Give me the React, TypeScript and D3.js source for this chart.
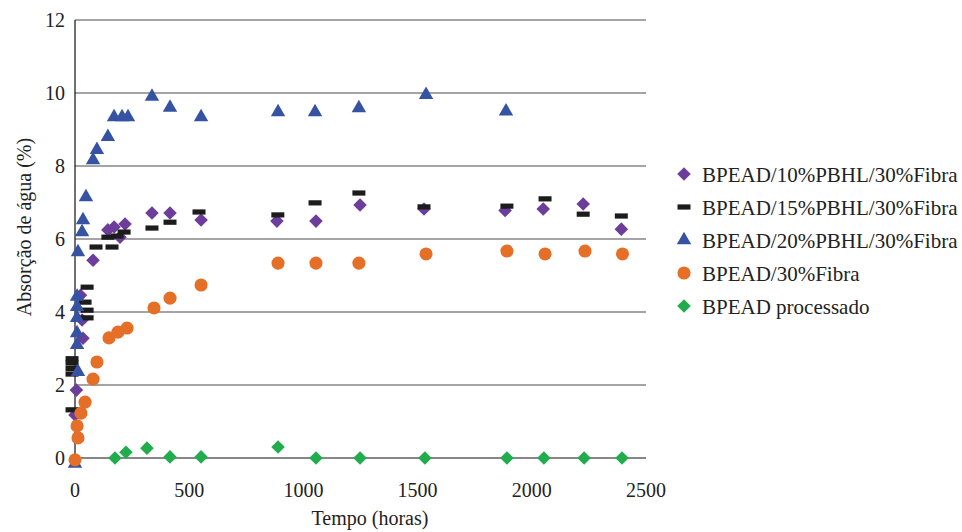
import * as d3 from 'd3';

// hours / absorption (%)
const s10Hours = [0, 6, 35, 31, 24, 79, 197, 144, 171, 219, 337, 416, 552, 884, 1055, 1248, 1528, 1883, 2050, 2225, 2392];
const s10Vals = [1.18, 1.86, 3.28, 3.78, 4.46, 5.42, 6.05, 6.25, 6.33, 6.41, 6.71, 6.71, 6.52, 6.49, 6.49, 6.93, 6.82, 6.78, 6.82, 6.96, 6.27];

const s15Hours = [-13, -13, -13, -13, -13, 53, 44, 53, 53, 92, 162, 144, 184, 215, 337, 416, 543, 888, 1051, 1243, 1528, 1891, 2058, 2225, 2392];
const s15Vals = [1.32, 2.3, 2.45, 2.6, 2.72, 4.68, 4.27, 4.05, 3.84, 5.78, 5.78, 6.05, 6.08, 6.19, 6.3, 6.46, 6.74, 6.66, 6.99, 7.26, 6.88, 6.9, 7.1, 6.68, 6.63];

const s20Hours = [0, 13, 9, 9, 9, 9, 9, 13, 31, 35, 48, 79, 96, 144, 171, 206, 232, 337, 416, 552, 889, 1051, 1243, 1537, 1887];
const s20Vals = [-0.15, 2.36, 3.1, 3.42, 3.84, 4.14, 4.42, 5.64, 6.19, 6.52, 7.15, 8.16, 8.44, 8.8, 9.34, 9.34, 9.34, 9.9, 9.6, 9.34, 9.48, 9.48, 9.59, 9.95, 9.5];

const s30Hours = [0, 13, 9, 26, 44, 79, 96, 149, 188, 228, 346, 416, 552, 889, 1055, 1243, 1537, 1891, 2058, 2233, 2397];
const s30Vals = [-0.05, 0.55, 0.88, 1.23, 1.53, 2.16, 2.63, 3.29, 3.45, 3.56, 4.11, 4.38, 4.74, 5.34, 5.34, 5.34, 5.59, 5.67, 5.59, 5.67, 5.59];

const procHours = [175, 223, 315, 416, 552, 889, 1055, 1248, 1532, 1891, 2053, 2229, 2395];
const procVals = [0, 0.16, 0.27, 0.03, 0.03, 0.3, 0, 0, 0, 0, 0, 0, 0];

const yTicks = [0, 2, 4, 6, 8, 10, 12];
const xTicks = [0, 500, 1000, 1500, 2000, 2500];

const seriesNames = [
  'BPEAD/10%PBHL/30%Fibra',
  'BPEAD/15%PBHL/30%Fibra',
  'BPEAD/20%PBHL/30%Fibra',
  'BPEAD/30%Fibra',
  'BPEAD processado',
];

const series = [
  { name: seriesNames[0], hours: s10Hours, vals: s10Vals, shape: 'diamond', color: '#6d3d9c' },
  { name: seriesNames[1], hours: s15Hours, vals: s15Vals, shape: 'dash', color: '#1c1c1c' },
  { name: seriesNames[2], hours: s20Hours, vals: s20Vals, shape: 'triangle', color: '#3552a3' },
  { name: seriesNames[3], hours: s30Hours, vals: s30Vals, shape: 'circle', color: '#e66f27' },
  { name: seriesNames[4], hours: procHours, vals: procVals, shape: 'diamond', color: '#21ad4d' },
];

const W = 962;
const H = 532;
const left = 75;
const right = 646;
const top = 20;
const bottom = 458;
const txt = { fontFamily: 'Liberation Serif, DejaVu Serif, serif', fontSize: 20, fill: '#222' };
const legendTxt = { ...txt, fontSize: 21 };

const x = d3.scaleLinear().domain([0, 2500]).range([left, right]);
const y = d3.scaleLinear().domain([0, 12]).range([bottom, top]);

const diamondPath = d3.symbol(d3.symbolSquare, 92)();
const trianglePath = d3.symbol(d3.symbolTriangle, 90)();
const circlePath = d3.symbol(d3.symbolCircle, 135)();

function Marker({ shape, color, cx, cy }: { shape: string; color: string; cx: number; cy: number }) {
  if (shape === 'dash') {
    return <rect x={cx - 6.5} y={cy - 2.6} width={13} height={5.2} fill={color} />;
  }
  if (shape === 'diamond') {
    return <path d={diamondPath!} transform={`translate(${cx},${cy}) rotate(45)`} fill={color} />;
  }
  if (shape === 'triangle') {
    return <path d={trianglePath!} transform={`translate(${cx},${cy})`} fill={color} />;
  }
  return <path d={circlePath!} transform={`translate(${cx},${cy})`} fill={color} />;
}

export default function App() {
  return (
    <svg width={W} height={H} style={{ position: 'absolute', left: 0, top: 0, background: '#fff' }}>
      {yTicks.map((t) => (
        <g key={t}>
          <line x1={left} x2={right} y1={y(t)} y2={y(t)} stroke={t === 0 ? '#111' : '#4a4a4a'} strokeWidth={1.2} />
          <text x={65} y={y(t)} dy="0.34em" textAnchor="end" style={txt}>
            {t}
          </text>
        </g>
      ))}
      <line x1={left} x2={left} y1={top} y2={bottom} stroke="#111" strokeWidth={1.2} />
      {xTicks.map((t) => (
        <text key={t} x={x(t)} y={497} textAnchor="middle" style={txt}>
          {t}
        </text>
      ))}
      <text x={370} y={525} textAnchor="middle" style={txt}>
        Tempo (horas)
      </text>
      <text transform={`translate(31,227) rotate(-90)`} textAnchor="middle" style={txt}>
        Absorção de água (%)
      </text>

      {series.map((s) => (
        <g key={s.name}>
          {s.hours.map((h, i) => (
            <Marker key={i} shape={s.shape} color={s.color} cx={x(h)} cy={y(s.vals[i])} />
          ))}
        </g>
      ))}

      {series.map((s, i) => {
        const ly = 174 + i * 33;
        return (
          <g key={s.name}>
            <Marker shape={s.shape} color={s.color} cx={684} cy={ly} />
            <text x={702} y={ly + 8} style={legendTxt}>
              {s.name}
            </text>
          </g>
        );
      })}
    </svg>
  );
}
